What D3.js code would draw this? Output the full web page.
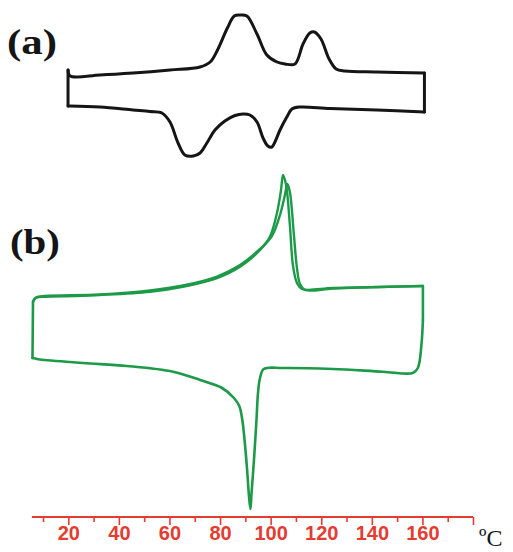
<!DOCTYPE html>
<html>
<head>
<meta charset="utf-8">
<script src="https://cdn.jsdelivr.net/npm/d3@7"></script>
<style>
  body { margin: 0; background: #fff; }
  svg { display: block; }
</style>
</head>
<body>
<div id="chart"></div>
<script>
// DSC cycles: [temperature ºC, heat flow (arbitrary units)]
// vertical jumps at the ends of each run are drawn as straight edges
const a_heating = [
    [19.9, 2.0], [20.7, 1.4], [32.5, 1.5], [45.6, 1.7], [60.2, 2.0],
    [72.1, 2.3], [76.1, 2.8], [78.8, 3.9], [82.9, 6.2], [85.6, 7.4], [87.9, 7.5],
    [90.6, 7.4], [94.6, 5.6], [98.5, 3.5], [102.5, 2.8], [105.7, 2.6], [109.6, 2.6],
    [112.8, 4.6], [115.5, 5.7], [117.3, 5.8], [119.9, 5.1], [123.1, 3.1], [125.9, 2.1],
    [129.4, 1.9], [142.0, 1.8], [160.8, 1.7]
];
const a_cooling = [
    [160.8, -2.2], [142.0, -2.0], [123.5, -1.85], [111.6, -1.7],
    [108.4, -1.9], [106.4, -2.7], [103.7, -4.0], [101.7, -5.2], [100.5, -5.7],
    [98.9, -5.6], [97.0, -4.8], [94.6, -3.2], [91.8, -2.5], [89.1, -2.4], [85.9, -2.55],
    [81.9, -3.1], [78.0, -4.0], [74.8, -5.3], [72.1, -6.3], [69.4, -6.6], [66.1, -6.5],
    [63.4, -5.3], [60.2, -3.2], [57.0, -2.3], [52.3, -2.15], [45.6, -2.0], [32.5, -1.7],
    [20.7, -1.6], [19.9, -1.6]
];
const b_heating_1 = [
    [6.05, 2.8], [7.2, 3.2], [10.8, 3.33], [22.6, 3.4], [32.5, 3.5],
    [52.3, 3.83], [65.3, 4.33], [78.8, 5.2], [87.9, 6.33], [95.8, 8.0], [99.7, 9.33],
    [102.5, 11.7], [104.1, 14.0], [104.9, 15.5], [106.1, 14.5], [107.6, 10.5],
    [108.8, 6.5], [110.4, 4.7], [112.4, 4.1], [124.6, 4.2], [143.2, 4.3], [160.2, 4.4]
];
const b_heating_2 = [
    [6.05, 2.9], [7.2, 3.25], [10.8, 3.4], [32.5, 3.55], [52.3, 3.95],
    [65.3, 4.45], [78.8, 5.35], [87.9, 6.5], [95.8, 8.1], [100.5, 9.4], [103.7, 11.5],
    [105.65, 13.5], [106.6, 14.6], [107.6, 13.8], [109.2, 9.5], [110.4, 6.2],
    [111.6, 4.6], [113.6, 4.0], [124.6, 4.15], [143.2, 4.3], [160.2, 4.4]
];
const b_cooling = [
    [160.2, 1.0], [159.6, -1.5], [158.2, -3.8], [156.2, -4.3],
    [144.4, -4.17], [124.6, -3.9], [104.9, -3.8], [97.3, -3.9], [95.8, -4.8],
    [95.0, -6.3], [94.4, -9.0], [93.4, -13.0], [92.4, -16.5], [92.0, -17.9],
    [91.4, -16.5], [90.7, -14.0], [89.8, -11.3], [88.8, -9.0], [87.6, -7.6],
    [85.5, -6.8], [80.8, -5.8], [72.1, -5.0], [61.4, -4.17], [43.2, -3.6],
    [25.8, -3.3], [8.8, -2.95], [6.8, -2.85], [5.85, -2.8]
];

const major_ticks = [20, 40, 60, 80, 100, 120, 140, 160, 180];
const minor_ticks = [10, 30, 50, 70, 90, 110, 130, 150, 170];
const axis_start = 5.6;
const axis_end = 180;
const panel_labels = ['(a)', '(b)'];
const unit_label = 'ºC';

const width = 513, height = 552;
const black = '#151515', green = '#1d9a48', red = '#e53b30';

const svg = d3.select('#chart')
    .append('svg')
    .attr('width', width)
    .attr('height', height);

const x = d3.scaleLinear().domain([0, 180]).range([17.7, 473]);
const y_a = d3.scaleLinear().domain([-8, 8]).range([170, 10]);
const y_b = d3.scaleLinear().domain([-20, 20]).range([530, 130]);

function draw_curve(data, y, color, w, curve) {
    const line = d3.line()
        .x(d => x(d[0]))
        .y(d => y(d[1]))
        .curve(curve || d3.curveCatmullRom.alpha(0.5));
    svg.append('path')
        .datum(data)
        .attr('d', line)
        .attr('fill', 'none')
        .attr('stroke', color)
        .attr('stroke-width', w)
        .attr('stroke-linejoin', 'round')
        .attr('stroke-linecap', 'round');
}

function draw_edge(p, q, y, color, w) {
    draw_curve([p, q], y, color, w, d3.curveLinear);
}

draw_curve(a_heating, y_a, black, 3);
draw_curve(a_cooling, y_a, black, 3);
draw_edge(a_heating[a_heating.length - 1], a_cooling[0], y_a, black, 3);
draw_edge(a_cooling[a_cooling.length - 1], a_heating[0], y_a, black, 3);

draw_curve(b_heating_1, y_b, green, 2.4);
draw_curve(b_heating_2, y_b, green, 2.4);
draw_curve(b_cooling, y_b, green, 2.6);
draw_edge(b_heating_1[b_heating_1.length - 1], b_cooling[0], y_b, green, 2.6);
draw_edge(b_cooling[b_cooling.length - 1], b_heating_1[0], y_b, green, 2.6);

// panel labels
[[7, 54], [10, 254]].forEach((p, i) => {
    svg.append('text')
        .attr('x', p[0])
        .attr('y', p[1])
        .text(panel_labels[i])
        .attr('font-family', '"Liberation Serif", "Times New Roman", serif')
        .attr('font-weight', 'bold')
        .attr('font-size', '36px')
        .attr('textLength', 50)
        .attr('lengthAdjust', 'spacingAndGlyphs')
        .attr('fill', black);
});

// temperature axis
const axis_y = 517;
const major = svg.append('g')
    .attr('transform', `translate(0,${axis_y})`)
    .call(d3.axisBottom(x)
        .tickValues(major_ticks)
        .tickSize(8)
        .tickPadding(1)
        .tickFormat(d => d === axis_end ? '' : d));
major.select('.domain').remove();
major.selectAll('line').attr('stroke', red).attr('stroke-width', 1.6);
major.selectAll('text')
    .attr('fill', red)
    .attr('font-family', '"Liberation Sans", Arial, sans-serif')
    .attr('font-weight', 'bold')
    .attr('font-size', '20px');

const minor = svg.append('g')
    .attr('transform', `translate(0,${axis_y})`)
    .call(d3.axisBottom(x)
        .tickValues(minor_ticks)
        .tickSize(5)
        .tickFormat(''));
minor.select('.domain').remove();
minor.selectAll('line').attr('stroke', red).attr('stroke-width', 1.6);

svg.append('line')
    .attr('x1', x(axis_start))
    .attr('x2', x(axis_end))
    .attr('y1', axis_y)
    .attr('y2', axis_y)
    .attr('stroke', red)
    .attr('stroke-width', 1.8);

svg.append('text')
    .attr('x', 479)
    .attr('y', 546)
    .text(unit_label)
    .attr('font-family', '"Liberation Serif", "Times New Roman", serif')
    .attr('font-size', '24px')
    .attr('fill', black);
</script>
</body>
</html>
